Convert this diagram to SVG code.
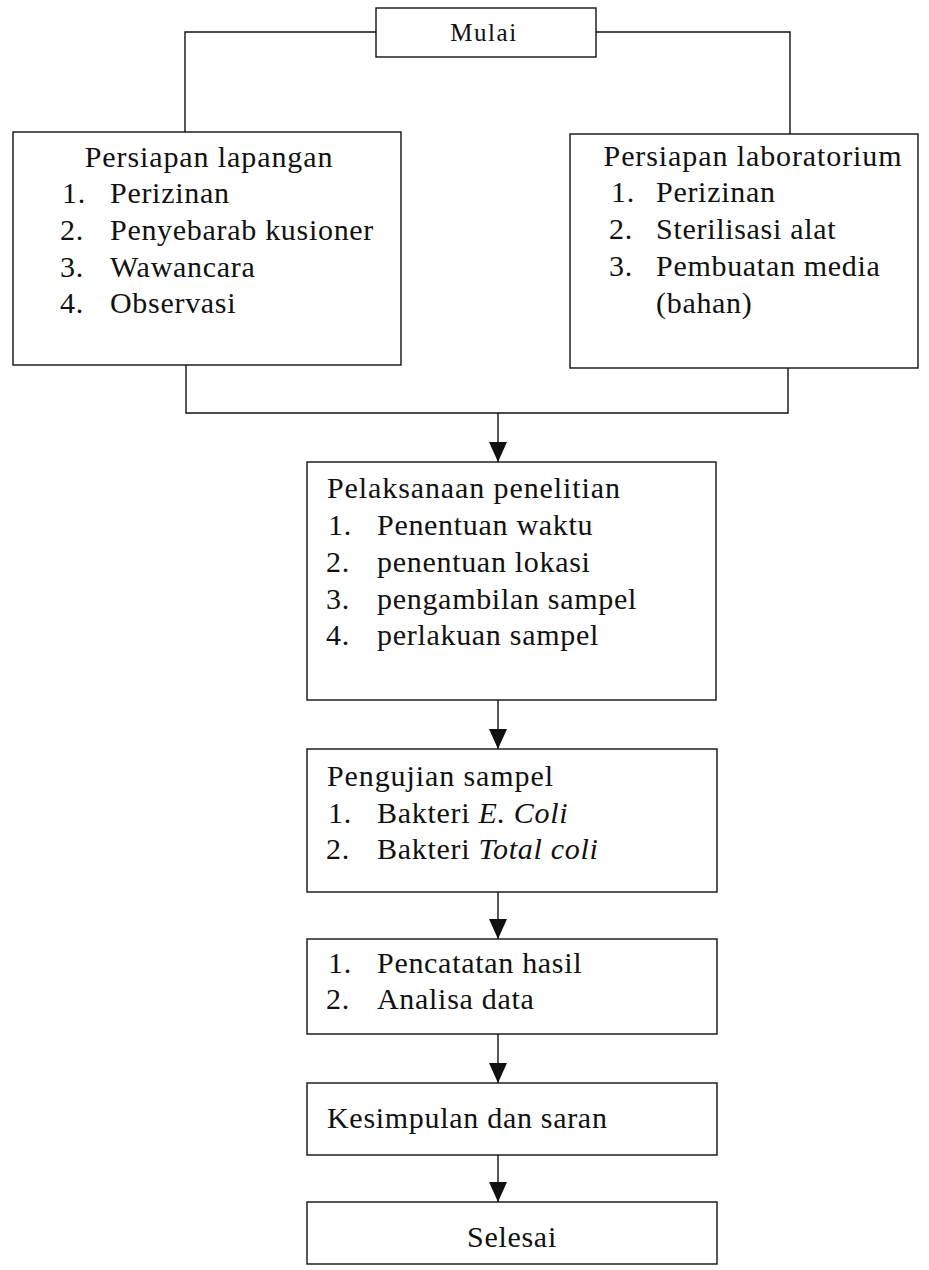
<svg xmlns="http://www.w3.org/2000/svg" width="929" height="1270" viewBox="0 0 929 1270">
  <style>
    .box { fill: #ffffff; stroke: #111111; stroke-width: 1.4; }
    .wire { fill: none; stroke: #111111; stroke-width: 1.4; }
    text { font-family: "Liberation Serif", "Times New Roman", serif; font-size: 30px; fill: #111111; letter-spacing: 0.7px; }
    .head { letter-spacing: 0.9px; }
    .mid { text-anchor: middle; }
    .it { font-style: italic; }
  </style>
  <defs>
    <marker id="arrow" viewBox="0 0 20 18" refX="20" refY="9" markerWidth="20" markerHeight="18" markerUnits="userSpaceOnUse" orient="auto">
      <path d="M0,0 L20,9 L0,18 Z" fill="#111111"/>
    </marker>
  </defs>

  <!-- connectors -->
  <g id="connectors">
    <polyline class="wire" points="376,32 185,32 185,132"/>
    <polyline class="wire" points="596,32 790,32 790,134"/>
    <polyline class="wire" points="186,365 186,413 788,413 788,368"/>
    <line class="wire" x1="498" y1="413" x2="498" y2="462" marker-end="url(#arrow)"/>
    <line class="wire" x1="498" y1="700" x2="498" y2="749" marker-end="url(#arrow)"/>
    <line class="wire" x1="498" y1="892" x2="498" y2="939" marker-end="url(#arrow)"/>
    <line class="wire" x1="498" y1="1034" x2="498" y2="1083" marker-end="url(#arrow)"/>
    <line class="wire" x1="498" y1="1155" x2="498" y2="1202" marker-end="url(#arrow)"/>
  </g>

  <!-- start -->
  <g id="mulai">
    <rect class="box" x="376" y="8" width="220" height="49"/>
    <text class="mid" x="484" y="41" style="font-size:25px; letter-spacing:1.6px">Mulai</text>
  </g>

  <!-- field preparation -->
  <g id="persiapan-lapangan">
    <rect class="box" x="13" y="132" width="388" height="233"/>
    <text class="mid head" x="209" y="167">Persiapan lapangan</text>
    <text x="62" y="203">1.</text><text x="110" y="203">Perizinan</text>
    <text x="60" y="240">2.</text><text x="110" y="240">Penyebarab kusioner</text>
    <text x="60" y="277">3.</text><text x="110" y="277">Wawancara</text>
    <text x="60" y="313">4.</text><text x="110" y="313">Observasi</text>
  </g>

  <!-- laboratory preparation -->
  <g id="persiapan-laboratorium">
    <rect class="box" x="570" y="134" width="348" height="234"/>
    <text class="mid head" x="753" y="166">Persiapan laboratorium</text>
    <text x="611" y="202">1.</text><text x="656" y="202">Perizinan</text>
    <text x="609" y="239">2.</text><text x="656" y="239">Sterilisasi alat</text>
    <text x="609" y="276">3.</text><text x="656" y="276">Pembuatan media</text>
    <text x="656" y="313">(bahan)</text>
  </g>

  <!-- research execution -->
  <g id="pelaksanaan">
    <rect class="box" x="307" y="462" width="409" height="238"/>
    <text class="head" x="327" y="498">Pelaksanaan penelitian</text>
    <text x="328" y="535">1.</text><text x="377" y="535">Penentuan waktu</text>
    <text x="326" y="572">2.</text><text x="377" y="572">penentuan lokasi</text>
    <text x="326" y="609">3.</text><text x="377" y="609">pengambilan sampel</text>
    <text x="326" y="645">4.</text><text x="377" y="645">perlakuan sampel</text>
  </g>

  <!-- sample testing -->
  <g id="pengujian">
    <rect class="box" x="307" y="749" width="410" height="143"/>
    <text class="head" x="327" y="786">Pengujian sampel</text>
    <text x="328" y="823">1.</text><text x="377" y="823">Bakteri <tspan class="it">E. Coli</tspan></text>
    <text x="326" y="859">2.</text><text x="377" y="859">Bakteri <tspan class="it">Total coli</tspan></text>
  </g>

  <!-- recording and analysis -->
  <g id="pencatatan">
    <rect class="box" x="307" y="939" width="410" height="95"/>
    <text x="328" y="973">1.</text><text x="377" y="973">Pencatatan hasil</text>
    <text x="326" y="1009">2.</text><text x="377" y="1009">Analisa data</text>
  </g>

  <!-- conclusion -->
  <g id="kesimpulan">
    <rect class="box" x="307" y="1083" width="410" height="72"/>
    <text x="327" y="1128">Kesimpulan dan saran</text>
  </g>

  <!-- end -->
  <g id="selesai">
    <rect class="box" x="307" y="1202" width="410" height="62"/>
    <text class="mid" x="512" y="1247">Selesai</text>
  </g>
</svg>
